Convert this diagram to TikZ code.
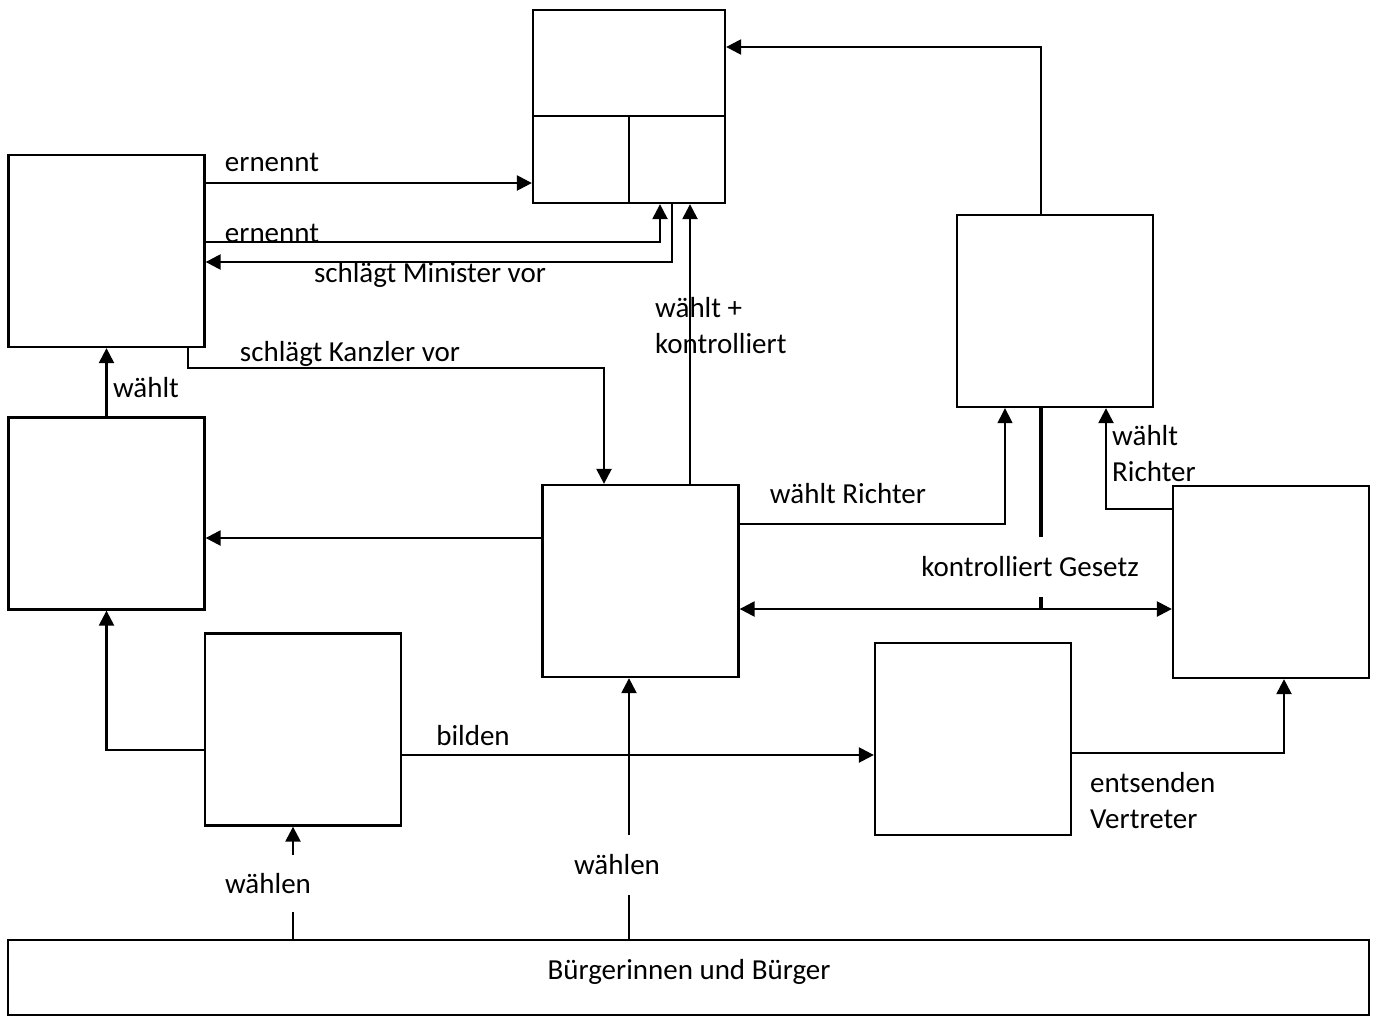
\documentclass[tikz,border=0pt]{standalone}
\usepackage{fontspec}
\setmainfont{Carlito}
\usetikzlibrary{positioning,arrows.meta}

\begin{document}
\begin{tikzpicture}[x=1pt,y=-1pt,
box/.style={draw,rectangle,line width=2.3pt,minimum width=196pt,minimum height=192pt,inner sep=0pt},
arr/.style={line width=2.4pt,-{Triangle[length=15pt,width=15pt]}},
lbl/.style={font=\fontsize{29}{36}\selectfont,inner sep=0pt,align=left}]
\useasboundingbox (0,0) rectangle (1380,1017);

% boxes
\node (top) [box,minimum width=192pt,minimum height=193pt] at (629,106.5) {};
\draw[line width=2.3pt] (top.west |- 0,116) -- (top.east |- 0,116);
\draw[line width=2.3pt] (629,116) -- (top.south -| 629,0);
\node (regierung) [box] at (106.5,251) {};
\node (praesident) [box] at (106.5,513.5) {};
\node (parteien) [box] at (303,729.5) {};
\node (bundestag) [box] at (640.5,581) {};
\node (gericht) [box] at (1055,311) {};
\node (bundesrat) [box] at (1271,582) {};
\node (laender) [box] at (973,739) {};
\node (buerger) [draw,line width=2.3pt,minimum width=1361pt,minimum height=75pt,inner sep=0pt] at (688.5,977.5) {};
\node (buergertext) [lbl] at (689,972) {Bürgerinnen und Bürger};

% labels
\node (ern1) [lbl] at (272,162) {ernennt};
\node (ern2) [lbl] at (272,233) {ernennt};
\node (minister) [lbl] at (430,275) {schlägt Minister vor};
\node (kanzler) [lbl] at (350,354) {schlägt Kanzler vor};
\node (waehlt) [lbl] at (146,388) {wählt};
\node (kontr) [lbl,anchor=west] at (655,326) {wählt +\\kontrolliert};
\node (richter1) [lbl] at (848,494) {wählt Richter};
\node (richter2) [lbl,anchor=west] at (1112,454) {wählt\\Richter};
\node (gesetz) [lbl,minimum height=60pt] at (1030,567) {kontrolliert Gesetz};
\node (bilden) [lbl] at (473,736) {bilden};
\node (entsenden) [lbl,anchor=west] at (1090,801) {entsenden\\Vertreter};
\node (waehlen1) [lbl,minimum height=57pt] at (268,883.5) {wählen};
\node (waehlen2) [lbl,minimum height=60pt] at (617,865) {wählen};

% connectors
\draw[arr] (regierung.east |- 0,183) -- (top.west |- 0,183);
\draw[arr] (regierung.east |- 0,242) -| (top.south -| 660,0);
\draw[arr] (top.south -| 672,0) |- (regierung.east |- 0,262);
\draw[arr] (bundestag.north -| 690,0) -- (top.south -| 690,0);
\draw[arr] (regierung.south -| 188,0) |- (604,368) -- (bundestag.north -| 604,0);
\draw[arr] (praesident.north) -- (regierung.south);
\draw[arr] (bundestag.west |- 0,538) -- (praesident.east |- 0,538);
\draw[arr] (parteien.west |- 0,750) -| (praesident.south);
\draw[arr] (parteien.east |- 0,755) -- (laender.west |- 0,755);
\draw[arr] (laender.east |- 0,753) -| (bundesrat.south -| 1284,0);
\draw[arr] (gericht.north -| 1041,0) |- (top.east |- 0,47);
\draw[arr,line width=1.2pt] (bundestag.east |- 0,524) -| (gericht.south -| 1005,0);
\draw[arr] (bundesrat.west |- 0,509) -| (gericht.south -| 1106,0);
\draw[line width=3.5pt] (gericht.south -| 1041,0) -- (gesetz.north -| 1041,0);
\draw[line width=3.5pt] (gesetz.south -| 1041,0) -- (1041,609);
\draw[arr,{Triangle[length=15pt,width=15pt]}-{Triangle[length=15pt,width=15pt]}] (bundestag.east |- 0,609) -- (bundesrat.west |- 0,609);
\draw[line width=2.4pt] (buerger.north -| 293,0) -- (waehlen1.south -| 293,0);
\draw[arr] (waehlen1.north -| 293,0) -- (parteien.south -| 293,0);
\draw[line width=2.4pt] (buerger.north -| 629,0) -- (waehlen2.south -| 629,0);
\draw[arr] (waehlen2.north -| 629,0) -- (bundestag.south -| 629,0);
\end{tikzpicture}
\end{document}
